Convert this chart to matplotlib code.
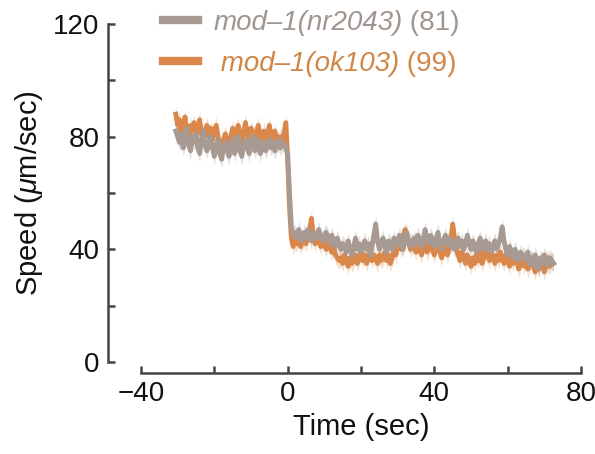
import numpy as np
import matplotlib
matplotlib.use("Agg")
import matplotlib.pyplot as plt
from matplotlib.lines import Line2D

plt.rcParams['font.family'] = ['Liberation Sans', 'DejaVu Sans']
plt.rcParams['mathtext.fontset'] = 'custom'
plt.rcParams['mathtext.rm'] = 'Liberation Sans'
plt.rcParams['mathtext.it'] = 'Liberation Sans:italic'

# temps (sec), pas de 0.5 s
t_start, t_step = -30.5, 0.5

# mod-1(nr2043), vitesse moyenne
speed_nr2043 = [
    82, 80, 78, 81, 76, 79, 83, 77, 75, 80,
    78, 81, 76, 74, 79, 82, 77, 75, 78, 80,
    76, 73, 77, 79, 74, 72, 76, 78, 75, 73,
    77, 79, 74, 76, 80, 75, 73, 77, 79, 76,
    74, 78, 80, 75, 77, 79, 74, 76, 78, 75,
    77, 79, 76, 78, 75, 77, 79, 76, 78, 77,
    76, 74, 60, 48, 45, 46, 44, 47, 45, 43,
    46, 44, 47, 45, 43, 46, 44, 45, 47, 44,
    43, 45, 46, 44, 42, 45, 43, 41, 44, 42,
    40, 42, 41, 39, 43, 40, 38, 41, 44, 40,
    42, 39, 41, 43, 40, 42, 38, 41, 45, 49,
    43, 40, 42, 44, 41, 39, 43, 42, 40, 44,
    41, 43, 45, 42, 40, 44, 46, 42, 43, 41,
    44, 42, 45, 43, 41, 44, 47, 43, 42, 45,
    43, 41, 44, 46, 42, 40, 43, 45, 42, 44,
    41, 43, 40, 42, 44, 41, 43, 40, 42, 45,
    42, 40, 43, 41, 39, 42, 44, 40, 41, 43,
    40, 42, 39, 41, 43, 40, 42, 44, 48, 43,
    40, 38, 41, 39, 37, 40, 38, 36, 39, 37,
    38, 36, 39, 35, 37, 34, 38, 36, 33, 37,
    35, 38, 36, 34, 37, 36, 35,
]

# mod-1(ok103), vitesse moyenne
speed_ok103 = [
    88, 84, 86, 80, 83, 87, 81, 79, 84, 82,
    85, 80, 83, 86, 81, 78, 82, 84, 80, 83,
    79, 82, 84, 80, 77, 75, 79, 81, 78, 76,
    80, 83, 79, 81, 84, 80, 78, 82, 85, 81,
    79, 83, 81, 78, 82, 84, 80, 78, 82, 79,
    81, 84, 80, 78, 82, 79, 77, 80, 79, 81,
    85, 72, 55, 44, 41, 43, 42, 45, 41, 43,
    44, 42, 45, 47, 51, 44, 42, 45, 43, 41,
    44, 42, 40, 43, 41, 39, 42, 38, 37, 36,
    37, 35, 38, 36, 34, 37, 35, 36, 38, 35,
    37, 39, 36, 38, 35, 37, 39, 36, 38, 37,
    35, 38, 36, 37, 39, 36, 38, 35, 37, 40,
    38, 41, 43, 40, 44, 47, 45, 42, 40, 43,
    41, 39, 42, 40, 38, 41, 43, 39, 40, 42,
    40, 38, 41, 43, 39, 37, 40, 42, 38, 40,
    43, 49, 44, 40, 38, 36, 39, 37, 35, 38,
    36, 34, 37, 35, 38, 36, 39, 35, 37, 40,
    38, 36, 39, 37, 35, 38, 36, 39, 37, 35,
    38, 36, 34, 37, 35, 38, 36, 33, 35, 37,
    34, 36, 33, 35, 37, 34, 32, 35, 33, 36,
    34, 32, 35, 37, 34, 36, 35,
]

sem_nr2043 = 3.0
sem_ok103 = 3.0

strains = ['mod–1(nr2043)', ' mod–1(ok103)']
counts = [81, 99]
col_gray = '#a69a92'
col_orange = '#d9874a'
txt_gray = '#a0958f'
txt_orange = '#cf8748'

x_ticks = [-40, -20, 0, 20, 40, 60, 80]
y_ticks = [0, 20, 40, 60, 80, 100, 120]

t = t_start + t_step * np.arange(len(speed_nr2043))
g = np.array(speed_nr2043, dtype=float)
o = np.array(speed_ok103, dtype=float)

fig = plt.figure(figsize=(5.95, 4.54), dpi=100)
ax = fig.add_axes([141 / 595, 92 / 454, 440 / 595, 338 / 454])

ax.fill_between(t, o - sem_ok103, o + sem_ok103, color=col_orange, alpha=0.25, lw=0)
ax.fill_between(t, g - sem_nr2043, g + sem_nr2043, color=col_gray, alpha=0.3, lw=0)
ax.plot(t, o, color=col_orange, lw=3.5, solid_joinstyle='round')
ax.plot(t, g, color=col_gray, lw=3.5, solid_joinstyle='round')

ax.set_xlim(-40, 80)
ax.set_ylim(0, 120)
ax.set_xticks(x_ticks)
ax.set_xticklabels([str(v).replace('-', '−') if v % 40 == 0 else '' for v in x_ticks])
ax.set_yticks(y_ticks)
ax.set_yticklabels([str(v) if v % 40 == 0 else '' for v in y_ticks])

for s in ['top', 'right']:
    ax.spines[s].set_visible(False)
ax.spines['left'].set_position(('outward', 24))
ax.spines['bottom'].set_position(('outward', 8))
for s in ['left', 'bottom']:
    ax.spines[s].set_color('#444444')
    ax.spines[s].set_linewidth(1.8)
ax.tick_params(direction='in', length=5, width=1.8, color='#444444',
               labelsize=20, pad=6, labelcolor='#111111')

ax.set_xlabel('Time (sec)', fontsize=21, labelpad=4, color='#111111')
ax.set_ylabel(r'Speed ($\mu$m/sec)', fontsize=21, labelpad=6, color='#111111')

# légende: traits + nom de souche en italique, puis (n) en romain
handles = [Line2D([], [], color=col_gray, lw=6), Line2D([], [], color=col_orange, lw=6)]
leg = fig.legend(handles, strains, loc='upper left', bbox_to_anchor=(152 / 595, 1.003),
                 frameon=False, handlelength=1.25, handletextpad=0.55,
                 labelspacing=0.55, borderaxespad=0.0, prop={'style': 'italic', 'size': 20})
for txt, c in zip(leg.get_texts(), [txt_gray, txt_orange]):
    txt.set_color(c)

fig.canvas.draw()
for txt, c, n in zip(leg.get_texts(), [txt_gray, txt_orange], counts):
    bb = txt.get_window_extent()
    fig.text(bb.x1 / fig.bbox.width, bb.y0 / fig.bbox.height, ' (%d)' % n,
             ha='left', va='bottom', fontsize=20, color=c)

fig.savefig('out.png', dpi=100)
